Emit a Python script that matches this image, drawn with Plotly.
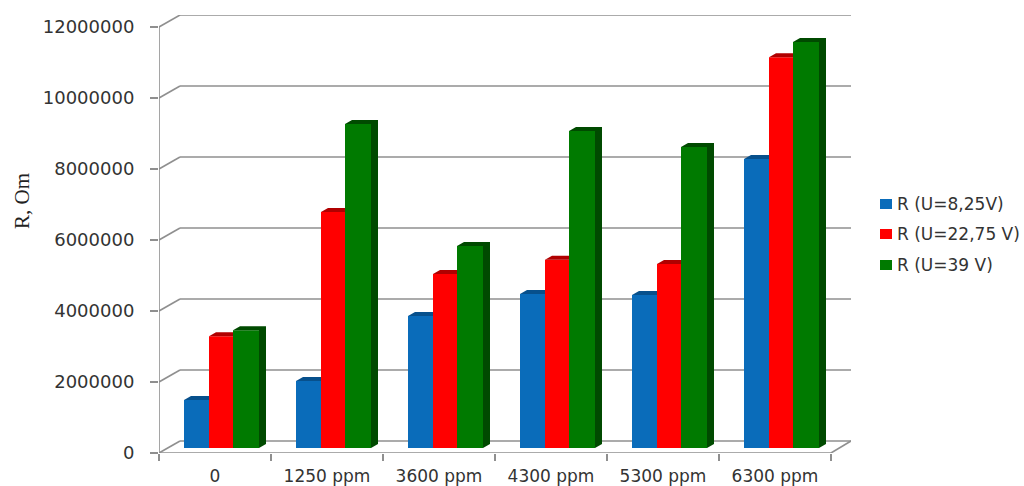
import plotly.graph_objects as go

# Series values in ohms, one list per test voltage
categories = ["0", "1250 ppm", "3600 ppm", "4300 ppm", "5300 ppm", "6300 ppm"]
r_8_25v = [1350000, 1890000, 3720000, 4340000, 4310000, 8140000]
r_22_75v = [3150000, 6650000, 4900000, 5300000, 5180000, 11010000]
r_39v = [3320000, 9130000, 5690000, 8930000, 8480000, 11440000]
series_names = ["R (U=8,25V)", "R (U=22,75 V)", "R (U=39 V)"]
y_ticks = [0, 2000000, 4000000, 6000000, 8000000, 10000000, 12000000]

# Layout scale: pixels per category and per unit of resistance
PLOT_L, PLOT_T, PLOT_R, PLOT_B = 159, 15, 851, 453
PX_CAT = 112.0
PX_VAL = 35.5e-6
WALL_DX, WALL_DY = 21 / PX_CAT, 12 / PX_VAL     # depth of the back wall
BAR_DX, BAR_DY = 7 / PX_CAT, 4 / PX_VAL         # depth of each bar
BAR_BASE = 5 / PX_VAL                           # bars stand a little behind the front edge
GRID = "#8f8f8f"
TEXT = "#333333"

styles = [
    (r_8_25v, "#0a6cba", "#07508c", 25, 25),
    (r_22_75v, "#ff0000", "#b00000", 50, 24),
    (r_39v, "#007a00", "#004a00", 74, 26),
]

fig = go.Figure()
centers = [i + 0.5 for i in range(len(categories))]

for idx, (values, face, dark, left_px, width_px) in enumerate(styles):
    off = left_px / PX_CAT - 0.5
    wid = width_px / PX_CAT
    fig.add_trace(go.Bar(
        x=centers, y=values, base=[BAR_BASE] * len(values),
        width=wid, offset=off, name=series_names[idx],
        marker=dict(color=face, line=dict(width=0)),
        showlegend=False,
    ))
    # Top cap of every bar; the rear series also gets a visible right side
    xs, ys = [], []
    for c, v in zip(centers, values):
        x0, x1 = c + off, c + off + wid
        top = BAR_BASE + v
        if idx == len(styles) - 1:
            xs += [x0, x1, x1 + BAR_DX, x0 + BAR_DX, x0, None]
            ys += [top, top, top + BAR_DY, top + BAR_DY, top, None]
            xs += [x1, x1 + BAR_DX, x1 + BAR_DX, x1, x1, None]
            ys += [BAR_BASE, BAR_BASE + BAR_DY, top + BAR_DY, top, BAR_BASE, None]
        else:
            xs += [x0, x1, x1, x0 + BAR_DX, x0, None]
            ys += [top, top, top + BAR_DY, top + BAR_DY, top, None]
    fig.add_trace(go.Scatter(
        x=xs, y=ys, mode="none", fill="toself", fillcolor=dark,
        hoverinfo="skip", showlegend=False,
    ))

# Back wall, side wall and floor outline sit underneath the bars
shapes = []
n = len(categories)
x_end = (PLOT_R - PLOT_L) / PX_CAT


def line(x0, y0, x1, y1, xref="x", yref="y"):
    shapes.append(dict(type="line", x0=x0, y0=y0, x1=x1, y1=y1, xref=xref, yref=yref,
                       layer="below", line=dict(color=GRID, width=1.6)))


for t in y_ticks:
    line(WALL_DX, t + WALL_DY, x_end, t + WALL_DY)
    line(0, t, WALL_DX, t + WALL_DY)
line(0, 0, 0, y_ticks[-1])
line(0, 0, n, 0)
line(n, 0, x_end, WALL_DY)

# Legend block to the right of the plot
plot_w = PLOT_R - PLOT_L
plot_h = PLOT_B - PLOT_T
annotations = []
for (values, face, dark, _, _), name, ly in zip(styles, series_names, [204, 234, 265]):
    shapes.append(dict(type="rect", xref="paper", yref="paper",
                       x0=(880 - PLOT_L) / plot_w, x1=(892 - PLOT_L) / plot_w,
                       y0=(PLOT_B - ly - 5) / plot_h, y1=(PLOT_B - ly + 5) / plot_h,
                       fillcolor=face, line=dict(width=0)))
    annotations.append(dict(xref="paper", yref="paper", x=(895 - PLOT_L) / plot_w,
                            y=(PLOT_B - ly) / plot_h, xanchor="left", yanchor="middle",
                            text=name, showarrow=False,
                            font=dict(family="DejaVu Sans", size=17, color=TEXT)))

# Axis title, rotated and centred beside the upper half of the value axis
annotations.append(dict(xref="paper", yref="paper", x=(22 - PLOT_L) / plot_w,
                        y=(PLOT_B - 201) / plot_h, xanchor="center", yanchor="middle",
                        text="R, Om", textangle=-90, showarrow=False,
                        font=dict(family="Liberation Serif", size=21, color="#222222")))

fig.update_layout(
    width=1024, height=486,
    margin=dict(l=PLOT_L, r=1024 - PLOT_R, t=PLOT_T, b=486 - PLOT_B, pad=0),
    paper_bgcolor="white", plot_bgcolor="white",
    barmode="overlay", showlegend=False,
    shapes=shapes, annotations=annotations,
    font=dict(family="DejaVu Sans", color=TEXT),
    xaxis=dict(
        range=[0, x_end], tickmode="array", tickvals=centers, ticktext=categories,
        showgrid=False, zeroline=False, showline=False, automargin=False,
        ticks="outside", ticklen=8, tickcolor="rgba(0,0,0,0)",
        tickfont=dict(family="DejaVu Sans", size=17, color=TEXT),
        minor=dict(tickmode="array", tickvals=list(range(n + 1)), ticks="outside",
                   ticklen=7, tickcolor=GRID, tickwidth=1.6, showgrid=False),
    ),
    yaxis=dict(
        range=[0, (PLOT_B - PLOT_T) / PX_VAL], tickmode="array", tickvals=y_ticks,
        ticktext=[str(t) for t in y_ticks],
        showgrid=False, zeroline=False, showline=False, automargin=False,
        ticks="outside", ticklen=8, tickcolor=GRID, tickwidth=1.6,
        ticklabelstandoff=12,
        tickfont=dict(family="DejaVu Sans", size=18, color=TEXT),
    ),
)

fig.write_html("out.html")
